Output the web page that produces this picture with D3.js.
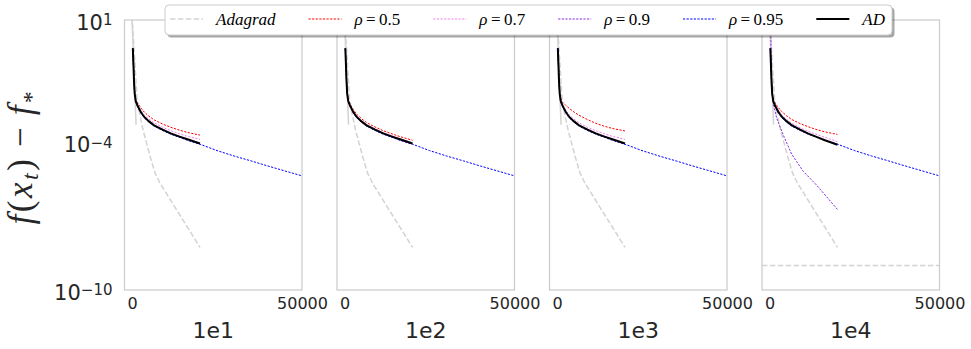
<!DOCTYPE html>
<html><head><meta charset="utf-8">
<script src="https://cdn.jsdelivr.net/npm/d3@7"></script>
<style>body{margin:0;background:#fff} svg{display:block}</style>
</head><body>
<svg id="chart" width="971" height="349"></svg>
<script>
// ---------------- data (log10 of f(x_t)-f*) ----------------
const panelNames = ["1e1", "1e2", "1e3", "1e4"];
const xTickValues = [0, 50000];
const yTickValues = [1e1, 1e-4, 1e-10];
const yTickExponents = ["1", "\u22124", "\u221210"];
const legendLabels = ["Adagrad", "\u03C1=0.5", "\u03C1=0.7", "\u03C1=0.9", "\u03C1=0.95", "AD"];

const tShort = [250, 450, 600, 800, 1100, 1660, 2600, 3600, 5000, 6500, 9000, 11400, 14000, 16300, 20000];
const tLong  = [250, 450, 600, 800, 1100, 1660, 2600, 3600, 5000, 6500, 9000, 11400, 14000, 16300, 20000,
                25000, 30000, 35000, 40000, 45000, 50000];

const adLog    = [-0.15, -0.9, -1.5, -2.0, -2.3, -2.5, -2.75, -2.95, -3.13, -3.29, -3.47, -3.62, -3.75, -3.86, -4.03];
const adLog4   = [-0.15, -0.9, -1.5, -2.0, -2.3, -2.5, -2.74, -2.94, -3.12, -3.28, -3.47, -3.63, -3.77, -3.9, -4.08];
const blueLog  = [-0.15, -0.9, -1.5, -2.0, -2.32, -2.53, -2.78, -2.98, -3.16, -3.32, -3.5, -3.65, -3.78, -3.9, -4.06,
                  -4.32, -4.54, -4.74, -4.95, -5.15, -5.35];
const purpleLog = [-0.15, -0.9, -1.5, -2.0, -2.31, -2.52, -2.77, -2.97, -3.15, -3.31, -3.49, -3.64, -3.77, -3.88, -4.05];

const redLog1  = [-0.15, -0.9, -1.5, -2.0, -2.24, -2.38, -2.58, -2.75, -2.92, -3.07, -3.24, -3.37, -3.49, -3.58, -3.69];
const pinkLog1 = [-0.15, -0.9, -1.5, -2.0, -2.28, -2.45, -2.68, -2.87, -3.04, -3.19, -3.37, -3.51, -3.64, -3.74, -3.86];
const redLog2  = [-0.15, -0.9, -1.5, -1.98, -2.25, -2.42, -2.65, -2.84, -3.02, -3.18, -3.36, -3.51, -3.64, -3.75, -3.9];
const pinkLog2 = [-0.15, -0.9, -1.5, -2.0, -2.29, -2.48, -2.72, -2.92, -3.1, -3.26, -3.44, -3.59, -3.72, -3.83, -4.0];
const redLog3  = [-0.15, -0.9, -1.5, -1.95, -2.2, -2.35, -2.48, -2.6, -2.75, -2.88, -3.06, -3.21, -3.33, -3.42, -3.52];
const pinkLog3 = [-0.15, -0.9, -1.5, -2.0, -2.28, -2.45, -2.68, -2.87, -3.04, -3.19, -3.37, -3.51, -3.64, -3.74, -3.86];
const redLog4  = [-0.15, -0.9, -1.5, -2.0, -2.24, -2.38, -2.57, -2.73, -2.9, -3.05, -3.22, -3.35, -3.47, -3.56, -3.66];
const pinkLog4 = [-0.15, -0.9, -1.5, -2.0, -2.28, -2.45, -2.68, -2.87, -3.05, -3.2, -3.39, -3.54, -3.67, -3.78, -3.96];

const tPurple4   = [200, 400, 550, 750, 1200, 2100, 4000, 6500, 9900, 14000, 20000];
const purpleLog4 = [1.5, 0.3, -1.2, -2.0, -2.45, -2.99, -3.67, -4.46, -5.16, -5.75, -6.72];

const tAdagrad   = [0, 1565, 3330, 5300, 6770, 8240, 20000];
const adagradLog = [1.2, -2.38, -3.52, -4.54, -5.23, -5.65, -8.26];
const tAdagradEarly   = [0, 1200];
const adagradEarlyLog = [1.1, -3.27];
const tFloor4   = [-2200, 50000];
const floorLog4 = [-9.0, -9.0];

// ---------------- build ----------------
const toPts = (ts, ls) => ts.map((t, i) => ({t: t, v: Math.pow(10, ls[i])}));
const panels = [
  {red: redLog1, pink: pinkLog1, ad: adLog, purpleT: tShort, purple: purpleLog, floor: false},
  {red: redLog2, pink: pinkLog2, ad: adLog, purpleT: tShort, purple: purpleLog, floor: false},
  {red: redLog3, pink: pinkLog3, ad: adLog, purpleT: tShort, purple: purpleLog, floor: false},
  {red: redLog4, pink: pinkLog4, ad: adLog4, purpleT: tPurple4, purple: purpleLog4, floor: true}
];

const svg = d3.select("#chart");
svg.append("rect").attr("width", 971).attr("height", 349).attr("fill", "#fff");
const plotTop = 20, plotBottom = 290, left0 = 124.5, pw = 177.5, step = 212.5;
const y = d3.scaleLog().domain([1e-10, 1e1]).range([plotBottom, plotTop]);
const tickColor = "#262626";
const dotted = "2.2,1.4";

panels.forEach((p, i) => {
  const L = left0 + i * step;
  const x = d3.scaleLinear().domain([-2200, 50000]).range([L, L + pw]);
  const g = svg.append("g");
  const cid = "clip" + i;
  svg.append("clipPath").attr("id", cid).append("rect")
    .attr("x", L).attr("y", plotTop).attr("width", pw).attr("height", plotBottom - plotTop);
  const line = d3.line().x(d => x(d.t)).y(d => y(d.v));
  const plot = g.append("g").attr("clip-path", `url(#${cid})`);

  plot.append("path").attr("d", line(toPts(tAdagradEarly, adagradEarlyLog)))
    .attr("fill", "none").attr("stroke", "#d3d3d3").attr("stroke-width", 1.5);
  plot.append("path").attr("d", line(toPts(tAdagrad, adagradLog)))
    .attr("fill", "none").attr("stroke", "#d3d3d3").attr("stroke-width", 1.5)
    .attr("stroke-dasharray", "5.5,2.4");
  if (p.floor) {
    plot.append("path").attr("d", line(toPts(tFloor4, floorLog4)))
      .attr("fill", "none").attr("stroke", "#d3d3d3").attr("stroke-width", 1.5)
      .attr("stroke-dasharray", "5.5,2.4");
  }
  const styled = [
    [toPts(tShort, p.red), "#ff0000"],
    [toPts(tShort, p.pink), "#ee82ee"],
    [toPts(p.purpleT, p.purple), "#8a2be2"],
    [toPts(tLong, blueLog), "#0000ff"]
  ];
  styled.forEach(([pts, c]) => {
    plot.append("path").attr("d", line(pts)).attr("fill", "none")
      .attr("stroke", c).attr("stroke-width", 1).attr("stroke-dasharray", dotted);
  });
  plot.append("path").attr("d", line(toPts(tShort, p.ad))).attr("fill", "none")
    .attr("stroke", "#000").attr("stroke-width", 2);

  // frame
  g.append("rect").attr("x", L).attr("y", plotTop).attr("width", pw).attr("height", plotBottom - plotTop)
    .attr("fill", "none").attr("stroke", "#cccccc").attr("stroke-width", 1.25);

  // x axis
  const xa = g.append("g").attr("transform", `translate(0,${plotBottom})`)
    .call(d3.axisBottom(x).tickValues(xTickValues).tickSize(0).tickPadding(8).tickFormat(d3.format("d")));
  xa.select(".domain").remove();
  xa.selectAll("text").attr("font-family", "DejaVu Sans").attr("font-size", 16).attr("fill", tickColor);

  g.append("text").attr("x", L + pw / 2).attr("y", 338).attr("text-anchor", "middle")
    .attr("font-family", "DejaVu Sans").attr("font-size", 22).attr("fill", tickColor)
    .text(panelNames[i]);

  if (i === 0) {
    const ya = g.append("g").attr("transform", `translate(${L},0)`)
      .call(d3.axisLeft(y).tickValues(yTickValues).tickSize(0).tickPadding(12));
    ya.select(".domain").remove();
    ya.selectAll("text").each(function(d, k) {
      const t = d3.select(this);
      t.text(null).attr("font-family", "DejaVu Sans").attr("font-size", 21)
        .attr("fill", tickColor).attr("dy", "0.43em");
      t.append("tspan").text("10");
      t.append("tspan").attr("font-size", 15).attr("dy", -4.5).text(yTickExponents[k]);
    });
  }
});

// y label
const yl = svg.append("text").attr("transform", "translate(32,156.5) rotate(-90)")
  .attr("text-anchor", "middle").attr("font-family", "Liberation Serif").attr("font-size", 35)
  .attr("fill", tickColor).attr("letter-spacing", 2.5);
yl.append("tspan").attr("font-style", "italic").text("f");
yl.append("tspan").text("(");
yl.append("tspan").attr("font-style", "italic").text("x");
yl.append("tspan").attr("font-style", "italic").attr("font-size", 24).attr("dy", 6).text("t");
yl.append("tspan").attr("dy", -6).text(")\u2009\u2212\u2009");
yl.append("tspan").attr("font-style", "italic").text("f");
yl.append("tspan").attr("font-size", 24).attr("dy", 7).text("*");

// legend
const legendColors = ["#d3d3d3", "#ff0000", "#ee82ee", "#8a2be2", "#0000ff", "#000"];
const legendDash = ["5.5,2.4", dotted, dotted, dotted, dotted, null];
const legendWidth = [1.5, 1, 1, 1, 1, 2];
const lg = svg.append("g");
const shadow = lg.append("rect").attr("fill", "#000").attr("opacity", 0.35).attr("rx", 4);
const box = lg.append("rect").attr("fill", "#fff").attr("stroke", "#cccccc").attr("stroke-width", 1).attr("rx", 4);
let cx = 170;
const ly = 19, lty = 25;
legendLabels.forEach((lab, i) => {
  const ln = lg.append("line").attr("x1", cx).attr("x2", cx + 33).attr("y1", ly).attr("y2", ly)
    .attr("stroke", legendColors[i]).attr("stroke-width", legendWidth[i]);
  if (legendDash[i]) ln.attr("stroke-dasharray", legendDash[i]);
  const tx = lg.append("text").attr("x", cx + 46).attr("y", lty)
    .attr("font-family", "Liberation Serif").attr("font-size", 17).attr("fill", "#000");
  if (lab.startsWith("\u03C1")) {
    const parts = lab.split("=");
    tx.append("tspan").attr("font-style", "italic").text(parts[0]);
    tx.append("tspan").text("\u2009=\u2009" + parts[1]);
  } else {
    tx.attr("font-style", "italic").text(lab);
  }
  const w = tx.node().getComputedTextLength();
  cx = cx + 46 + w + (i === legendLabels.length - 1 ? 7 : 33);
});
const bx = 165, by = 5, bh = 30, bw = cx - bx;
box.attr("x", bx).attr("y", by).attr("width", bw).attr("height", bh);
shadow.attr("x", bx + 2.5).attr("y", by + 2.5).attr("width", bw).attr("height", bh);
</script>
</body></html>
